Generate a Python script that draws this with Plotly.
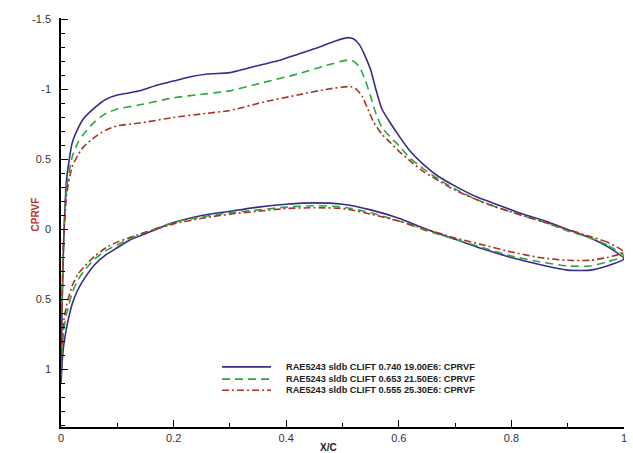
import plotly.graph_objects as go

# Surface pressure distributions (x/c, Cp) for three flow conditions
x_up_1 = [0, 0.002, 0.005, 0.01, 0.02, 0.03, 0.04, 0.06, 0.08, 0.10, 0.12, 0.14, 0.17, 0.20, 0.23, 0.26,
          0.30, 0.33, 0.36, 0.39, 0.42, 0.45, 0.47, 0.49, 0.51, 0.52, 0.53, 0.54, 0.55, 0.56, 0.57, 0.585,
          0.60, 0.62, 0.645, 0.67, 0.70, 0.74, 0.78, 0.82, 0.86, 0.90, 0.94, 0.97, 1.0]
cp_up_1 = [1.10, 0.55, 0.05, -0.36, -0.62, -0.72, -0.79, -0.87, -0.93, -0.96, -0.975, -0.99, -1.03, -1.06, -1.09, -1.11,
           -1.12, -1.15, -1.18, -1.21, -1.25, -1.29, -1.32, -1.35, -1.37, -1.36, -1.32, -1.24, -1.14, -0.99, -0.86, -0.76,
           -0.67, -0.56, -0.46, -0.38, -0.31, -0.23, -0.17, -0.11, -0.06, 0.00, 0.06, 0.12, 0.21]

x_up_2 = [0, 0.002, 0.005, 0.01, 0.02, 0.03, 0.04, 0.06, 0.08, 0.10, 0.14, 0.20, 0.26, 0.30, 0.36, 0.42, 0.47,
          0.51, 0.52, 0.53, 0.54, 0.55, 0.56, 0.57, 0.585, 0.60, 0.62, 0.645, 0.67, 0.70, 0.74, 0.78, 0.82,
          0.86, 0.90, 0.94, 0.97, 1.0]
cp_up_2 = [1.05, 0.50, 0.05, -0.30, -0.52, -0.62, -0.68, -0.77, -0.83, -0.86, -0.89, -0.94, -0.97, -0.99, -1.05, -1.11, -1.17,
           -1.21, -1.20, -1.16, -1.07, -0.95, -0.82, -0.73, -0.66, -0.60, -0.51, -0.43, -0.36, -0.29, -0.21, -0.15, -0.10,
           -0.05, 0.01, 0.06, 0.11, 0.19]

x_up_3 = [0, 0.002, 0.005, 0.01, 0.02, 0.03, 0.04, 0.06, 0.08, 0.10, 0.14, 0.20, 0.26, 0.30, 0.36, 0.42, 0.47,
          0.515, 0.525, 0.535, 0.545, 0.555, 0.57, 0.585, 0.60, 0.62, 0.645, 0.67, 0.70, 0.74, 0.78, 0.82,
          0.86, 0.90, 0.94, 0.97, 1.0]
cp_up_3 = [1.00, 0.45, 0.05, -0.25, -0.45, -0.53, -0.59, -0.66, -0.71, -0.74, -0.76, -0.80, -0.83, -0.85, -0.91, -0.96, -1.00,
           -1.02, -1.00, -0.95, -0.86, -0.77, -0.68, -0.62, -0.56, -0.49, -0.41, -0.35, -0.28, -0.21, -0.15, -0.10,
           -0.05, 0.00, 0.05, 0.09, 0.16]

x_lo = [0, 0.002, 0.005, 0.01, 0.02, 0.03, 0.04, 0.06, 0.08, 0.10, 0.12, 0.15, 0.20, 0.25, 0.30, 0.35, 0.40,
        0.45, 0.50, 0.55, 0.60, 0.65, 0.70, 0.75, 0.80, 0.85, 0.90, 0.94, 0.97, 1.0]
cp_lo_1 = [1.10, 0.95, 0.82, 0.70, 0.53, 0.43, 0.36, 0.25, 0.18, 0.13, 0.08, 0.03, -0.05, -0.10, -0.13, -0.16, -0.18,
           -0.19, -0.18, -0.14, -0.08, 0.00, 0.07, 0.14, 0.20, 0.25, 0.29, 0.29, 0.26, 0.21]
cp_lo_2 = [1.05, 0.85, 0.72, 0.60, 0.45, 0.36, 0.30, 0.21, 0.15, 0.11, 0.07, 0.02, -0.05, -0.09, -0.12, -0.14, -0.16,
           -0.17, -0.16, -0.12, -0.06, 0.01, 0.07, 0.13, 0.19, 0.23, 0.26, 0.26, 0.23, 0.19]
cp_lo_3 = [1.00, 0.80, 0.65, 0.54, 0.40, 0.32, 0.27, 0.19, 0.13, 0.09, 0.06, 0.02, -0.04, -0.08, -0.11, -0.13, -0.15,
           -0.155, -0.15, -0.11, -0.06, 0.00, 0.06, 0.11, 0.16, 0.20, 0.22, 0.22, 0.20, 0.16]

names = [
    "RAE5243 sldb CLIFT 0.740 19.00E6: CPRVF",
    "RAE5243 sldb CLIFT 0.653 21.50E6: CPRVF",
    "RAE5243 sldb CLIFT 0.555 25.30E6: CPRVF",
]

y_tickvals = [-1.5, -1, -0.5, 0, 0.5, 1]
y_ticktext = ["-1.5", "-1", "0.5", "0", "0.5", "1"]
x_tickvals = [0, 0.2, 0.4, 0.6, 0.8, 1]
x_ticktext = ["0", "0.2", "0.4", "0.6", "0.8", "1"]

colors = ["#3b2a8c", "#2aa83a", "#a8322a"]
dashes = ["solid", "8px,5px", "7px,3px,2px,3px"]
uppers = [(x_up_1, cp_up_1), (x_up_2, cp_up_2), (x_up_3, cp_up_3)]
lowers = [cp_lo_1, cp_lo_2, cp_lo_3]

fig = go.Figure()
for name, (xu, cu), cl, color, dash in zip(names, uppers, lowers, colors, dashes):
    # closed loop: upper surface from trailing edge to leading edge, then lower surface back
    xs = list(reversed(xu)) + x_lo[1:]
    ys = list(reversed(cu)) + cl[1:]
    fig.add_trace(go.Scatter(
        x=xs, y=ys, mode="lines", name=name, showlegend=False,
        line=dict(color=color, width=1.6, dash=dash, shape="spline", smoothing=0.6),
    ))

# Compact legend block inside the plot area
leg_x0, leg_x1, leg_tx = 0.286, 0.373, 0.396
leg_rows = [0.147, 0.117, 0.090]
for name, color, dash, ly in zip(names, colors, dashes, leg_rows):
    fig.add_shape(type="line", xref="paper", yref="paper",
                  x0=leg_x0, x1=leg_x1, y0=ly, y1=ly,
                  line=dict(color=color, width=1.6, dash=dash))
    fig.add_annotation(xref="paper", yref="paper", x=leg_tx, y=ly,
                       xanchor="left", yanchor="middle", showarrow=False,
                       text=f"<b>{name}</b>",
                       font=dict(size=9.2, color="#222"))

# Axis titles
fig.add_annotation(xref="paper", yref="paper", x=-0.046, y=0.52, textangle=-90,
                   xanchor="center", yanchor="middle",
                   showarrow=False, text="<b>CPRVF</b>",
                   font=dict(size=10, color="#c0302a"))
fig.add_annotation(xref="paper", yref="paper", x=0.475, y=-0.049,
                   xanchor="center", yanchor="middle",
                   showarrow=False, text="<b>X/C</b>",
                   font=dict(size=10, color="#222"))

fig.update_layout(
    width=633, height=453,
    margin=dict(l=61, r=6, t=18, b=26),
    paper_bgcolor="white", plot_bgcolor="white",
    font=dict(family="Liberation Sans, Arial, sans-serif", size=11, color="#333"),
    showlegend=False,
)

fig.update_xaxes(
    range=[0, 1], tickvals=x_tickvals, ticktext=x_ticktext,
    showgrid=False, zeroline=False, showline=True, linecolor="black", linewidth=1.5,
    ticks="inside", ticklen=7, tickwidth=1.2, tickcolor="black",
    minor=dict(dtick=0.1, ticks="inside", ticklen=4, tickcolor="black", tickwidth=1),
    tickfont=dict(size=11, color="#333"),
)
fig.update_yaxes(
    range=[1.41, -1.51], tickvals=y_tickvals, ticktext=y_ticktext,
    showgrid=False, zeroline=False, showline=True, linecolor="black", linewidth=1.5,
    ticks="inside", ticklen=7, tickwidth=1.2, tickcolor="black",
    minor=dict(dtick=0.1, ticks="inside", ticklen=4, tickcolor="black", tickwidth=1),
    ticklabelstandoff=6,
    tickfont=dict(size=11, color="#333"),
)

fig.write_html("out.html")
